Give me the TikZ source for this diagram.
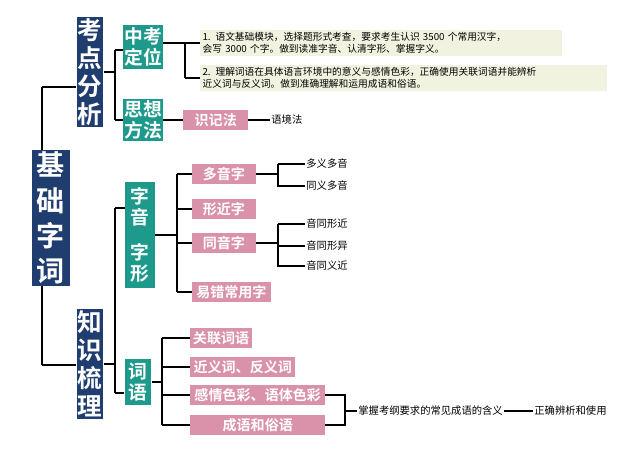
\documentclass[tikz,border=0pt]{standalone}
\usepackage{fontspec}
\newfontfamily\cjk{Noto Sans CJK SC}
\newfontfamily\cjkb{Noto Sans CJK SC Bold}
\definecolor{navy}{HTML}{1F3D6E}
\definecolor{teal2}{HTML}{1E9A8C}
\definecolor{rose}{HTML}{DA92AA}
\definecolor{beige}{HTML}{F2F2E0}
\tikzset{
	big/.style={fill=navy,text=white,font=\cjkb\fontsize{21}{24}\selectfont,align=center,inner sep=1pt},
	mid/.style={fill=teal2,text=white,font=\cjkb\fontsize{16}{18}\selectfont,align=center,inner sep=1pt},
	pinkbox/.style={fill=rose,text=white,font=\cjkb\fontsize{12}{14}\selectfont,inner sep=0pt,minimum height=0.6cm,anchor=west},
	note/.style={fill=beige,font=\cjk\fontsize{8.3}{10.5}\selectfont,align=left,anchor=west,inner sep=2pt},
	leaf/.style={font=\cjk\fontsize{8.8}{10}\selectfont,anchor=west,inner sep=1pt},
	link/.style={line width=1.1pt}
}
\begin{document}
\begin{tikzpicture}[x=0.03cm,y=-0.03cm]
	\useasboundingbox[fill=white] (0,0) rectangle (640,455);
	%Branch coordinate
	\coordinate (root1) at (42,87) ;
	\coordinate (root2) at (42,365) ;
	\coordinate (b1) at (115,50) ;
	\coordinate (b2) at (115,120) ;
	\coordinate (b3) at (185,43) ;
	\coordinate (b4) at (185,78) ;
	\coordinate (b5) at (115,208) ;
	\coordinate (b6) at (115,393) ;
	\coordinate (c1) at (177,174) ;
	\coordinate (c2) at (177,292) ;
	\coordinate (d1) at (162,338) ;
	\coordinate (d2) at (162,425) ;

	%Main tree line
	\draw[link] (root1)--(root2);

	%Boxes
	\node[big,font=\cjkb\fontsize{24}{26}\selectfont,minimum width=1.15cm,minimum height=4.05cm] (jichu) at (51,218) {基\\[4pt]础\\[4pt]字\\[4pt]词};
	\node[big,minimum width=0.75cm,minimum height=2.85cm] (kaodian) at (90,72) {考\\点\\分\\析};
	\node[big,minimum width=0.75cm,minimum height=2.75cm] (zhishi) at (90,364) {知\\识\\梳\\理};
	\node[mid,minimum width=1.2cm,minimum height=1.3cm] (dingwei) at (143,47) {中考\\定位};
	\node[mid,minimum width=1.2cm,minimum height=1.2cm] (fangfa) at (143,120) {思想\\方法};
	\node[mid,minimum width=0.9cm,minimum height=3.15cm] (ziyin) at (140,235) {字\\音\\[12pt]字\\形};
	\node[mid,minimum width=0.8cm,minimum height=1.35cm] (ciyu) at (138,382) {词\\语};

	%Notes
	\node[note,text width=10.7cm] (note1) at (200,43) {1. 语文基础模块，选择题形式考查，要求考生认识 3500 个常用汉字，\\会写 3000 个字。做到读准字音、认清字形、掌握字义。};
	\node[note,text width=12.05cm] (note2) at (200,78) {2. 理解词语在具体语言环境中的意义与感情色彩，正确使用关联词语并能辨析\\近义词与反义词。做到准确理解和运用成语和俗语。};
	\node[pinkbox,minimum width=1.95cm] (shiji) at (183,120) {识记法};
	\node[leaf] (yujing) at (270,120) {语境法};

	%Characters
	\node[pinkbox,minimum width=1.9cm] (duoyin) at (192,174) {多音字};
	\node[pinkbox,minimum width=1.9cm] (xingjin) at (192,209) {形近字};
	\node[pinkbox,minimum width=1.9cm] (tongyin) at (192,243) {同音字};
	\node[pinkbox,minimum width=2.35cm] (yicuo) at (192,292) {易错常用字};
	\node[leaf] (l1) at (305,164) {多义多音};
	\node[leaf] (l2) at (305,186) {同义多音};
	\node[leaf] (l3) at (305,224) {音同形近};
	\node[leaf] (l4) at (305,246) {音同形异};
	\node[leaf] (l5) at (305,266) {音同义近};

	%Words
	\node[pinkbox,minimum width=1.85cm] (guanlian) at (190,338) {关联词语};
	\node[pinkbox,minimum width=3.15cm] (jinyi) at (190,367) {近义词、反义词};
	\node[pinkbox,minimum width=4.05cm] (ganqing) at (190,395) {感情色彩、语体色彩};
	\node[pinkbox,minimum width=4.05cm] (chengyu) at (190,425) {成语和俗语};
	\node[leaf] (zhangwo) at (357,411) {掌握考纲要求的常见成语的含义};
	\node[leaf] (zhengque) at (533,411) {正确辨析和使用};

	%Lines
	\draw[link] (root1)--(kaodian.west|-root1);
	\draw[link] (root2)--(zhishi.west|-root2);
	\draw[link] (kaodian.east)--(kaodian.east-|b1);
	\draw[link] (b1)--(b2);
	\draw[link] (b1)--(dingwei.west|-b1);
	\draw[link] (b2)--(fangfa.west|-b2);
	\draw[link] (dingwei.east|-b3)--(b3)--(b4);
	\draw[link] (b3)--(note1.west);
	\draw[link] (b4)--(note2.west);
	\draw[link] (fangfa.east)--(shiji.west);
	\draw[link] (shiji.east)--(yujing.west);
	\draw[link] (zhishi.east)--(zhishi.east-|b1);
	\draw[link] (b5)--(b6);
	\draw[link] (b5)--(ziyin.west|-b5);
	\draw[link] (b6)--(ciyu.west|-b6);
	\draw[link] (ziyin.east)--(ziyin.east-|c1);
	\draw[link] (c1)--(c2);
	\foreach \n in {duoyin,xingjin,tongyin,yicuo} \draw[link] (c1|-\n.west)--(\n.west);
	\draw[link] (duoyin.east)--(278,174);
	\draw[link] (l1.west-|278,0)--(278,186)--(l2.west);
	\draw[link] (278,164)--(l1.west);
	\draw[link] (tongyin.east)--(278,243);
	\draw[link] (l3.west-|278,0)--(278,266)--(l5.west);
	\draw[link] (278,224)--(l3.west);
	\draw[link] (278,246)--(l4.west);
	\draw[link] (ciyu.east)--(ciyu.east-|d1);
	\draw[link] (d1)--(d2);
	\foreach \n in {guanlian,jinyi,ganqing,chengyu} \draw[link] (d1|-\n.west)--(\n.west);
	\draw[link] (ganqing.east)--(345,395)--(345,425)--(chengyu.east);
	\draw[link] (345,411)--(zhangwo.west);
	\draw[link] (zhangwo.east)--(zhengque.west);
\end{tikzpicture}
\end{document}
